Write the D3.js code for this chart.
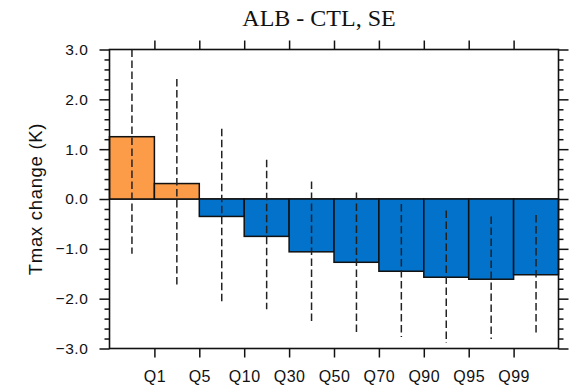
<!DOCTYPE html>
<html>
<head>
<meta charset="utf-8">
<script src="https://cdn.jsdelivr.net/npm/d3@7"></script>
<style>
  html, body { margin: 0; padding: 0; background: #fff; }
  svg { display: block; }
</style>
</head>
<body>
<svg id="chart" width="571" height="390"></svg>
<script>
// ---- data ----
const title = "ALB - CTL, SE";
const yLabel = "Tmax change (K)";
const tickLabels = ["Q1", "Q5", "Q10", "Q30", "Q50", "Q70", "Q90", "Q95", "Q99"];
const barValues = [1.25, 0.31, -0.35, -0.75, -1.06, -1.27, -1.45, -1.57, -1.61, -1.52];
const ciLow  = [-1.10, -1.72, -2.06, -2.21, -2.49, -2.70, -2.77, -2.89, -2.81, -2.71];
const ciHigh = [3.0, 2.41, 1.41, 0.79, 0.35, 0.13, -0.10, -0.23, -0.35, -0.32];
const yTicks = [-3, -2, -1, 0, 1, 2, 3];

(function () {
// ---- layout ----
const L = 109.5, R = 558.5, T = 49.5, B = 348.5;
const svg = d3.select("#chart");

const x = d3.scaleLinear().domain([0, barValues.length]).range([L, R]);
const y = d3.scaleLinear().domain([-3, 3]).range([B, T]);

const orange = "#fc9c48", blue = "#0272cb";

svg.append("defs").append("clipPath").attr("id", "clip")
  .append("rect").attr("x", L).attr("y", T).attr("width", R - L).attr("height", B - T);

// zero line
svg.append("line").attr("x1", L).attr("x2", R).attr("y1", y(0)).attr("y2", y(0))
  .attr("stroke", "#000").attr("stroke-width", 1.5);

// bars
svg.append("g").selectAll("rect").data(barValues).join("rect")
  .attr("x", (d, i) => x(i))
  .attr("width", (d, i) => x(i + 1) - x(i))
  .attr("y", d => y(Math.max(0, d)))
  .attr("height", d => Math.abs(y(d) - y(0)))
  .attr("fill", d => d >= 0 ? orange : blue)
  .attr("stroke", "#111").attr("stroke-width", 1.5);

// dashed ranges
svg.append("g").attr("clip-path", "url(#clip)").selectAll("line").data(barValues).join("line")
  .attr("x1", (d, i) => x(i + 0.5)).attr("x2", (d, i) => x(i + 0.5))
  .attr("y1", (d, i) => y(ciHigh[i])).attr("y2", (d, i) => y(ciLow[i]))
  .attr("stroke", "#222").attr("stroke-width", 1.5)
  .attr("stroke-dasharray", "7.5,3.5");

// axes
const tickPos = tickLabels.map((d, i) => i + 1);
const fontSans = "'Liberation Sans', Arial, Helvetica, sans-serif";

const gBottom = svg.append("g").attr("transform", `translate(0,${B})`)
  .call(d3.axisBottom(x).tickValues(tickPos).tickSize(9).tickPadding(13)
    .tickFormat((d, i) => tickLabels[i]));
const gTop = svg.append("g").attr("transform", `translate(0,${T})`)
  .call(d3.axisTop(x).tickValues(tickPos).tickSize(9).tickFormat(""));

const minor = d3.range(-3, 3.0001, 0.2).map(v => Math.round(v * 10) / 10)
  .filter(v => Math.abs(v - Math.round(v)) > 1e-6);

const gLeft = svg.append("g").attr("transform", `translate(${L},0)`)
  .call(d3.axisLeft(y).tickValues(yTicks).tickSize(10).tickPadding(11)
    .tickFormat(d3.format(".1f")));
const gLeftMinor = svg.append("g").attr("transform", `translate(${L},0)`)
  .call(d3.axisLeft(y).tickValues(minor).tickSize(5).tickFormat(""));
const gRight = svg.append("g").attr("transform", `translate(${R},0)`)
  .call(d3.axisRight(y).tickValues(yTicks).tickSize(10).tickFormat(""));
const gRightMinor = svg.append("g").attr("transform", `translate(${R},0)`)
  .call(d3.axisRight(y).tickValues(minor).tickSize(5).tickFormat(""));

[gBottom, gTop, gLeft, gLeftMinor, gRight, gRightMinor].forEach(g => {
  g.select(".domain").remove();
  g.selectAll(".tick line").attr("stroke", "#111").attr("stroke-width", 1.5);
  g.selectAll("text").attr("fill", "#111").style("font-family", fontSans);
});
gBottom.selectAll("text").style("font-size", "16px").style("letter-spacing", "0.5px");
gLeft.selectAll("text").style("font-size", "15.5px").style("letter-spacing", "0.6px");

// frame
svg.append("rect").attr("x", L).attr("y", T).attr("width", R - L).attr("height", B - T)
  .attr("fill", "none").attr("stroke", "#111").attr("stroke-width", 1.6);

// title
svg.append("text").attr("x", 319).attr("y", 26).attr("text-anchor", "middle")
  .style("font-family", "'Liberation Serif', 'Times New Roman', serif")
  .style("font-size", "24px").attr("fill", "#111").text(title);

// y label
svg.append("text").attr("transform", `translate(42,${(T + B) / 2}) rotate(-90)`)
  .attr("text-anchor", "middle")
  .style("font-family", fontSans).style("font-size", "18.5px").style("letter-spacing", "0.7px")
  .attr("fill", "#111").text(yLabel);
})();
</script>
</body>
</html>
